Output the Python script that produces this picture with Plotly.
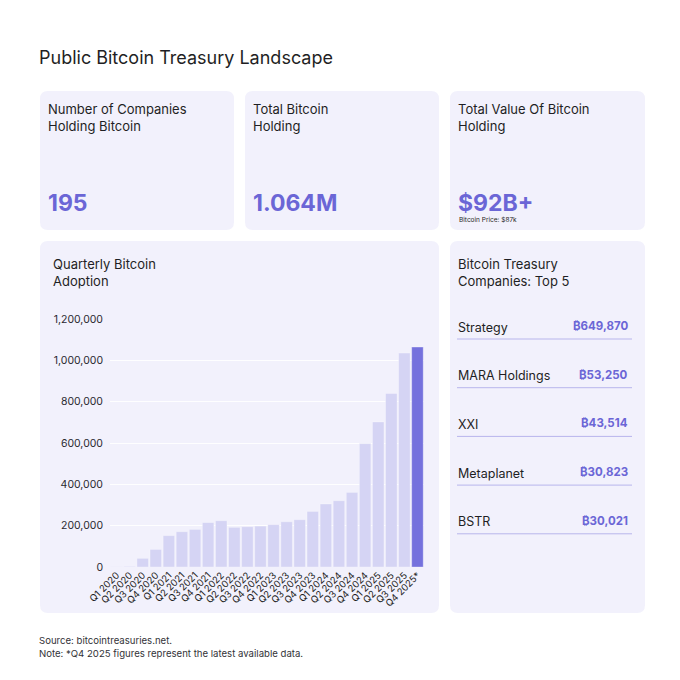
import plotly.graph_objects as go

# quarterly holdings (BTC)
quarters = ["Q1 2020", "Q2 2020", "Q3 2020", "Q4 2020",
            "Q1 2021", "Q2 2021", "Q3 2021", "Q4 2021",
            "Q1 2022", "Q2 2022", "Q3 2022", "Q4 2022",
            "Q1 2023", "Q2 2023", "Q3 2023", "Q4 2023",
            "Q1 2024", "Q2 2024", "Q3 2024", "Q4 2024",
            "Q1 2025", "Q2 2025", "Q3 2025", "Q4 2025*"]
holdings = [1500, 3000, 42000, 85000,
            152000, 171000, 182000, 215000,
            224000, 192000, 195000, 198000,
            205000, 219000, 229000, 269000,
            305000, 321000, 361000, 597000,
            702000, 840000, 1035000, 1064000]
y_ticks = [0, 200000, 400000, 600000, 800000, 1000000, 1200000]

# top cards
card_titles = ["Number of Companies<br>Holding Bitcoin", "Total Bitcoin<br>Holding",
               "Total Value Of Bitcoin<br>Holding"]
card_values = ["195", "1.064M", "$92B+"]

# top 5 companies
companies = ["Strategy", "MARA Holdings", "XXI", "Metaplanet", "BSTR"]
company_btc = [649870, 53250, 43514, 30823, 30021]

W = H = 680
OFF = 8  # page body margin
CARD_BG = "#f2f1fc"
LIGHT_BAR = "#d5d4f4"
DARK_BAR = "#7571dd"
ACCENT = "#6b66d6"
TEXT = "#1f1f24"
FONT = "Inter"


def px(x):
    return (x - OFF) / W


def py(y):
    return 1 - (y - OFF) / H


def rounded(x0, y0, x1, y1, r=8):
    # rounded rectangle path in paper coords, given pixel box (top-down)
    pts = [
        f"M {px(x0 + r)},{py(y0)}",
        f"L {px(x1 - r)},{py(y0)}",
        f"Q {px(x1)},{py(y0)} {px(x1)},{py(y0 + r)}",
        f"L {px(x1)},{py(y1 - r)}",
        f"Q {px(x1)},{py(y1)} {px(x1 - r)},{py(y1)}",
        f"L {px(x0 + r)},{py(y1)}",
        f"Q {px(x0)},{py(y1)} {px(x0)},{py(y1 - r)}",
        f"L {px(x0)},{py(y0 + r)}",
        f"Q {px(x0)},{py(y0)} {px(x0 + r)},{py(y0)}",
        "Z",
    ]
    return dict(type="path", xref="paper", yref="paper", path=" ".join(pts),
                fillcolor=CARD_BG, line=dict(width=0), layer="below")


def label(x, y, text, size=13, color=TEXT, anchor="left", bold=False, yanchor="middle"):
    if bold:
        text = "<b>" + text + "</b>"
    return dict(x=px(x), y=py(y), xref="paper", yref="paper", text=text,
                showarrow=False, xanchor=anchor, yanchor=yanchor, align=anchor,
                font=dict(family=FONT, size=size, color=color))


colors = [LIGHT_BAR] * (len(holdings) - 1) + [DARK_BAR]

fig = go.Figure()
fig.add_trace(go.Bar(
    x=quarters, y=holdings,
    marker=dict(color=colors, line=dict(color="rgba(255,255,255,0.6)", width=0.5)),
    hoverinfo="x+y",
))

shapes = []
annotations = []

# top cards
card_x = [(40, 234), (245, 439), (450, 645)]
for (x0, x1), t, v in zip(card_x, card_titles, card_values):
    shapes.append(rounded(x0, 91, x1, 230))
    annotations.append(label(x0 + 6, 99, t, size=13, yanchor="top"))
    annotations.append(label(x0 + 6, 203, v, size=23, color=ACCENT, bold=True))
annotations.append(label(457, 220, "Bitcoin Price: $87k", size=6.5))

# chart card + right card
shapes.append(rounded(40, 241, 439, 613))
shapes.append(rounded(450, 241, 645, 613))
annotations.append(label(51, 254, "Quarterly Bitcoin<br>Adoption", size=13, yanchor="top"))
annotations.append(label(456, 254, "Bitcoin Treasury<br>Companies: Top 5", size=13, yanchor="top"))

# top 5 list
for i, (name, btc) in enumerate(zip(companies, company_btc)):
    y = 327 + i * 48.7
    annotations.append(label(456, y, name, size=12.5))
    annotations.append(label(630, y - 1, f"₿{btc:,}", size=11.5, color=ACCENT, anchor="right", bold=True))
    shapes.append(dict(type="line", xref="paper", yref="paper",
                       x0=px(457), x1=px(632), y0=py(y + 12), y1=py(y + 12),
                       line=dict(color="#b8b5ec", width=1)))

# title + footer
annotations.append(label(37, 58, "Public Bitcoin Treasury Landscape", size=18))
annotations.append(label(37, 640, "Source: bitcointreasuries.net.", size=9.6, color="#333338"))
annotations.append(label(37, 653, "Note: *Q4 2025 figures represent the latest available data.", size=9.6, color="#333338"))

fig.update_layout(
    width=W, height=H,
    margin=dict(l=0, r=0, t=0, b=0, pad=0),
    paper_bgcolor="white",
    plot_bgcolor=CARD_BG,
    showlegend=False,
    bargap=0.12,
    shapes=shapes,
    annotations=annotations,
    xaxis=dict(domain=[px(110), px(424)], tickangle=-45, automargin=False,
               tickfont=dict(family=FONT, size=9.5, color=TEXT),
               showgrid=False, showline=False, ticks="", fixedrange=True),
    yaxis=dict(domain=[py(567), py(319)], range=[0, 1200000], automargin=False,
               tickvals=y_ticks, tickformat=",",
               tickfont=dict(family=FONT, size=10.5, color="#2a2a30"),
               gridcolor="rgba(255,255,255,0.9)", gridwidth=1,
               zeroline=False, showline=False, ticks="", ticklabelstandoff=6,
               fixedrange=True),
)

fig.write_html("out.html")
